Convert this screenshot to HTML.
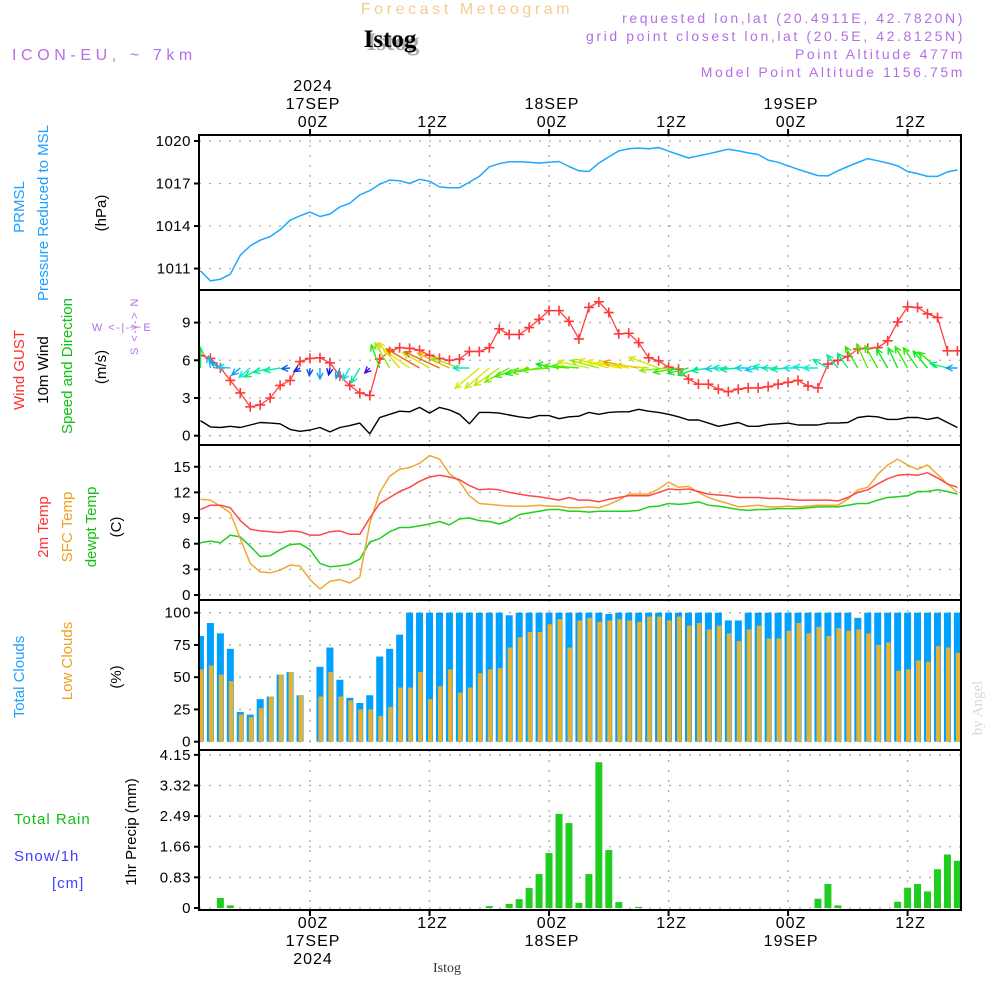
<!DOCTYPE html>
<html><head><meta charset="utf-8"><title>Forecast Meteogram Istog</title>
<style>
html,body{margin:0;padding:0;background:#fff;}
svg{display:block;font-family:"Liberation Sans",sans-serif;}
</style></head>
<body>
<svg id="chart" width="1000" height="1000" viewBox="0 0 1000 1000" xmlns="http://www.w3.org/2000/svg">
<g>
<text x="467" y="14" text-anchor="middle" font-size="16" letter-spacing="3.6" fill="#f5cc90">Forecast Meteogram</text>
<text x="393" y="50" text-anchor="middle" font-size="25" font-weight="bold" font-family="Liberation Serif,serif" fill="#aaa">Istog</text>
<text x="390" y="47" text-anchor="middle" font-size="25" font-weight="bold" font-family="Liberation Serif,serif" fill="#000">Istog</text>
<text x="12" y="60" font-size="16" letter-spacing="4.6" fill="#b46ee6">ICON-EU, ~ 7km</text>
<text x="965" y="23" text-anchor="end" font-size="14" letter-spacing="2.6" fill="#b46ee6">requested lon,lat (20.4911E, 42.7820N)</text>
<text x="965" y="41" text-anchor="end" font-size="14" letter-spacing="2.6" fill="#b46ee6">grid point closest lon,lat (20.5E, 42.8125N)</text>
<text x="965" y="59" text-anchor="end" font-size="14" letter-spacing="2.6" fill="#b46ee6">Point Altitude 477m</text>
<text x="965" y="77" text-anchor="end" font-size="14" letter-spacing="2.6" fill="#b46ee6">Model Point Altitude 1156.75m</text>
</g>
<g id="plots"></g>
<g font-size="15">
<text transform="translate(24,207) rotate(-90)" text-anchor="middle" fill="#1ea0ff">PRMSL</text>
<text transform="translate(48,213) rotate(-90)" text-anchor="middle" fill="#1ea0ff">Pressure Reduced to MSL</text>
<text transform="translate(106,213) rotate(-90)" text-anchor="middle" fill="#000">(hPa)</text>
<text transform="translate(24,370) rotate(-90)" text-anchor="middle" fill="#ff3030">Wind GUST</text>
<text transform="translate(48,370) rotate(-90)" text-anchor="middle" fill="#000">10m Wind</text>
<text transform="translate(72,366) rotate(-90)" text-anchor="middle" fill="#10c010">Speed and Direction</text>
<text transform="translate(106,367) rotate(-90)" text-anchor="middle" fill="#000">(m/s)</text>
<text x="122" y="331" text-anchor="middle" font-size="11" fill="#b46ee6" letter-spacing="1.5">W &lt;-|-&gt; E</text>
<text transform="translate(138,326) rotate(-90)" text-anchor="middle" font-size="11" fill="#b46ee6" letter-spacing="1.5">S &lt;-|-&gt; N</text>
<text transform="translate(48,527) rotate(-90)" text-anchor="middle" fill="#ff3030">2m Temp</text>
<text transform="translate(72,527) rotate(-90)" text-anchor="middle" fill="#f0a020">SFC Temp</text>
<text transform="translate(96,527) rotate(-90)" text-anchor="middle" fill="#10c010">dewpt Temp</text>
<text transform="translate(121,527) rotate(-90)" text-anchor="middle" fill="#000">(C)</text>
<text transform="translate(24,677) rotate(-90)" text-anchor="middle" fill="#1ea0ff">Total Clouds</text>
<text transform="translate(72,661) rotate(-90)" text-anchor="middle" fill="#f0a020">Low Clouds</text>
<text transform="translate(121,677) rotate(-90)" text-anchor="middle" fill="#000">(%)</text>
<text x="14" y="824" fill="#10c010" letter-spacing="1">Total  Rain</text>
<text x="14" y="861" fill="#4040ff" letter-spacing="1">Snow/1h</text>
<text x="52" y="888" fill="#4040ff" letter-spacing="1">[cm]</text>
<text transform="translate(136,832) rotate(-90)" text-anchor="middle" fill="#000">1hr Precip (mm)</text>
<text transform="translate(982,708) rotate(-90)" text-anchor="middle" font-family="Liberation Serif,serif" font-size="15" fill="#d8d8d8">by Angel</text>
<text x="447" y="972" text-anchor="middle" font-family="Liberation Serif,serif" font-size="14" fill="#333">Istog</text>
</g>
</svg>
<script>
// hourly data, hours -11 .. 65 relative to 00Z 17SEP
const hours = [];
for (let h = -11; h <= 65; h++) hours.push(h);
const pressure = [1010.84,1010.13,1010.25,1010.6,1011.94,1012.6,1013.0,1013.26,1013.73,1014.41,1014.72,1014.98,1014.67,1014.84,1015.35,1015.6,1016.2,1016.5,1016.95,1017.24,1017.2,1017.0,1017.3,1017.16,1016.76,1016.7,1016.7,1017.1,1017.5,1018.18,1018.4,1018.53,1018.53,1018.5,1018.44,1018.5,1018.55,1018.2,1017.9,
1017.85,1018.44,1018.88,1019.3,1019.45,1019.5,1019.45,1019.54,1019.28,1019.05,1018.8,1018.95,1019.1,1019.26,1019.42,1019.3,1019.16,1019.05,1018.65,1018.5,1018.25,1018.0,1017.78,1017.56,1017.54,1017.9,1018.2,1018.48,1018.76,1018.6,1018.44,1018.25,1017.85,1017.7,1017.5,1017.5,1017.82,1017.95];
const gust = [6.4,6.15,5.4,4.4,3.4,2.3,2.45,3.0,4.0,4.4,5.9,6.15,6.2,5.8,4.75,4.0,3.4,3.2,6.1,6.7,7.0,6.95,6.8,6.4,6.15,6.0,6.1,6.7,6.7,7.0,8.5,8.05,8.05,8.6,9.25,9.95,9.95,9.1,7.7,
10.2,10.65,9.8,8.1,8.15,7.4,6.2,5.95,5.45,5.3,4.5,4.1,4.1,3.7,3.5,3.7,3.8,3.8,3.9,4.1,4.25,4.4,3.95,3.8,5.7,6.0,6.3,6.9,6.95,7.0,7.55,9.05,10.25,10.2,9.7,9.4,6.75,6.75];
const wind10 = [1.2,0.7,0.65,0.75,0.65,0.85,1.05,1.0,0.95,0.5,0.35,0.45,0.65,0.3,0.65,0.8,1.0,0.15,1.45,1.7,1.95,1.9,2.25,1.8,2.25,2.05,1.7,0.95,1.85,1.85,1.8,1.65,1.5,1.4,1.6,1.6,1.35,1.5,1.55,
1.85,1.7,1.85,1.9,1.9,2.1,1.95,1.85,1.7,1.5,1.25,1.25,1.0,0.75,0.9,1.05,0.75,0.75,0.9,0.95,1.0,0.85,0.85,0.85,1.0,1.0,1.05,1.45,1.55,1.5,1.3,1.3,1.45,1.45,1.3,1.45,1.05,0.65];
// direction the wind blows toward, degrees counter-clockwise from east
const windToAngle = [90,100,150,175,220,220,210,195,190,185,210,265,270,260,250,240,240,225,110,120,130,145,150,150,155,155,160,180,220,220,215,210,200,195,190,185,170,175,175,
168,165,165,168,170,170,175,160,185,190,195,200,190,185,180,185,180,190,175,180,185,180,175,180,150,130,125,120,115,120,120,115,120,125,130,140,165,180];
const temp2m = [10.0,10.5,10.5,10.2,8.7,7.7,7.5,7.4,7.3,7.5,7.4,7.0,7.0,7.4,7.5,7.1,7.1,9.0,10.7,11.4,12.1,12.6,13.3,13.8,14.0,13.8,13.5,12.8,12.3,12.4,12.3,12.0,11.8,11.6,11.5,11.3,11.1,11.4,11.1,
11.1,10.9,11.2,11.4,11.6,11.6,11.6,12.0,12.4,12.3,12.4,12.1,11.8,11.7,11.6,11.4,11.4,11.4,11.3,11.3,11.2,11.1,11.1,11.1,11.1,11.0,11.4,12.0,12.3,13.0,13.6,14.0,14.1,14.0,14.3,13.7,13.0,12.6];
const sfcTemp = [11.2,11.1,10.4,9.6,6.6,3.7,2.7,2.6,2.9,3.5,3.4,1.8,0.7,1.6,1.8,1.4,2.1,8.4,12.0,13.9,14.7,14.9,15.4,16.3,15.9,14.2,13.3,11.6,10.7,10.6,10.5,10.4,10.4,10.4,10.5,10.4,10.4,10.2,10.2,
10.3,10.2,10.6,11.1,11.8,11.8,11.8,12.4,13.2,12.6,12.7,12.0,11.4,11.0,10.7,10.3,10.4,10.5,10.3,10.3,10.4,10.3,10.4,10.5,10.5,10.5,11.2,12.3,12.6,14.1,15.2,15.9,15.2,14.7,15.2,14.1,13.0,12.0];
const dewpt = [6.1,6.3,6.1,7.0,6.8,5.7,4.5,4.6,5.3,5.9,6.0,5.3,3.7,3.3,3.4,3.6,4.2,6.2,6.6,7.4,7.9,7.9,8.1,8.3,8.6,8.2,8.9,9.0,8.7,8.6,8.3,8.7,9.4,9.6,9.8,10.0,10.0,9.8,9.8,
9.7,9.8,9.8,9.8,9.8,9.9,10.3,10.4,10.7,10.6,10.7,10.9,10.5,10.4,10.2,10.0,9.9,10.0,10.0,10.1,10.1,10.1,10.2,10.3,10.3,10.3,10.5,10.7,10.7,11.1,11.4,11.5,11.6,12.1,12.1,12.3,12.1,11.8];
const totalClouds = [82,92,84,72,23,21,33,35,52,54,36,0,58,73,48,34,30,36,66,72,83,100,100,100,100,100,100,100,100,100,100,98,100,100,100,100,100,100,100,
100,100,99,100,100,100,100,100,100,100,100,100,100,100,94,94,100,100,100,100,100,100,100,100,100,100,100,96,100,100,100,100,100,100,100,100,100,100];
const lowClouds = [56,59,52,47,21,19,26,35,52,54,36,0,35,54,35,32,25,25,20,27,42,42,54,33,43,56,38,42,53,56,57,73,81,85,85,91,95,73,94,
96,93,94,95,94,93,97,97,94,97,90,92,87,90,84,78,87,90,80,80,86,92,84,89,82,88,86,87,84,75,77,55,56,63,62,74,73,69];
const precip = [0,0,0.27,0.07,0,0,0,0,0,0,0,0,0,0,0,0,0,0,0,0,0,0,0,0,0,0,0,0,0,
0.05,0,0.11,0.24,0.54,0.92,1.49,2.55,2.30,0.14,0.92,3.95,1.57,0.16,0,0.03,
0,0,0,0,0,0,0,0,0,0,0,0,0,0,0,0,0,
0.25,0.65,0.07,0,0,0,0,0,0.17,0.55,0.65,0.45,1.05,1.45,1.28];
const pressureTicks = [1011,1014,1017,1020];
const windTicks = [0,3,6,9];
const tempTicks = [0,3,6,9,12,15];
const cloudTicks = [0,25,50,75,100];
const precipTicks = [0,0.83,1.66,2.49,3.32,4.15];
const gridHours = [0,12,24,36,48,60];
const timeLabels = ["00Z","12Z","00Z","12Z","00Z","12Z"];
const dateLabels = ["17SEP","","18SEP","","19SEP",""];

const NS = "http://www.w3.org/2000/svg";
const X0 = 199, X1 = 961;
const xOf = h => 310 + 9.96 * h;
const panels = {
  p: {top:135, bot:290, y: v => 141 + (1020 - v) * 14.17},
  w: {top:290, bot:445, y: v => 435.7 - v * 12.57},
  t: {top:445, bot:600, y: v => 595 - v * 8.55},
  c: {top:600, bot:750, y: v => 741.7 - v * 1.29},
  r: {top:750, bot:910, y: v => 908 - v * 36.9}
};
const root = document.getElementById('plots');
function el(tag, attrs, parent) {
  const e = document.createElementNS(NS, tag);
  for (const k in attrs) e.setAttribute(k, attrs[k]);
  (parent || root).appendChild(e);
  return e;
}
const defs = el('defs', {});
function makeClip(id, p) {
  const c = el('clipPath', {id: id}, defs);
  el('rect', {x: X0 + 1, y: p.top + 1, width: X1 - X0 - 2, height: p.bot - p.top - 2}, c);
}
function panelGroup(key, name, ticks, fmt) {
  const p = panels[key];
  makeClip('clip-' + key, p);
  const g = el('g', {});
  
  
  ticks.forEach(v => {
    const y = p.y(v);
    const gl = el('line', {x1: X0, x2: X1, y1: y, y2: y, stroke: '#aaa', 'stroke-width': 1.3, 'stroke-dasharray': '2,8'}, g);
    
    
    el('line', {x1: X0 - 5, x2: X0, y1: y, y2: y, stroke: '#000', 'stroke-width': 2}, g);
    const t = el('text', {x: 191, y: y + 5, 'text-anchor': 'end', 'font-size': 15, 'letter-spacing': 0.5, fill: '#000'}, g);
    
    
    t.textContent = fmt(v);
  });
  gridHours.forEach(h => {
    const x = xOf(h);
    const vl = el('line', {x1: x, x2: x, y1: p.top, y2: p.bot, stroke: '#aaa', 'stroke-width': 1.3, 'stroke-dasharray': '2,8'}, g);
    
    
  });
  const data = el('g', {'clip-path': 'url(#clip-' + key + ')'}, g);
  
  
  const fr = el('rect', {x: X0, y: p.top, width: X1 - X0, height: p.bot - p.top, fill: 'none', stroke: '#000', 'stroke-width': 2}, g);
  
  
  return data;
}
function line(parent, arr, p, color, name, w) {
  const pts = arr.map((v, i) => xOf(hours[i]).toFixed(1) + ',' + p.y(v).toFixed(1)).join(' ');
  const pl = el('polyline', {points: pts, fill: 'none', stroke: color, 'stroke-width': w || 1.5, 'stroke-linejoin': 'round'}, parent);
  
  
}

// Pressure
const gp = panelGroup('p', 'pressure', pressureTicks, v => String(v));
line(gp, pressure, panels.p, '#1ea8ff', 'pressure-line');

// Wind
const gw = panelGroup('w', 'wind', windTicks, v => String(v));
line(gw, wind10, panels.w, '#000', 'wind-10m-line', 1.4);
line(gw, gust, panels.w, '#ff4040', 'wind-gust-line', 1.3);
gust.forEach((v, i) => {
  const x = xOf(hours[i]), y = panels.w.y(v);
  const m = el('path', {d: `M${x-5},${y}H${x+5}M${x},${y-5}V${y+5}`, stroke: '#ff3838', 'stroke-width': 1.6}, gw);
  
  
});
wind10.forEach((s, i) => {
  const a = windToAngle[i] * Math.PI / 180;
  const len = Math.max(7, s * 17);
  const x0 = xOf(hours[i]), y0 = 368;
  const x1 = x0 + Math.cos(a) * len, y1 = y0 - Math.sin(a) * len;
  const hue = Math.max(25, Math.min(275, 270 - s * 110));
  const col = `hsl(${hue},90%,48%)`;
  const hl = 7, ha = 0.45;
  const hx1 = x1 - Math.cos(a - ha) * hl, hy1 = y1 + Math.sin(a - ha) * hl;
  const hx2 = x1 - Math.cos(a + ha) * hl, hy2 = y1 + Math.sin(a + ha) * hl;
  const ar = el('path', {d: `M${x0},${y0}L${x1},${y1}M${hx1},${hy1}L${x1},${y1}L${hx2},${hy2}`, stroke: col, 'stroke-width': 1.4, fill: 'none'}, gw);
  
  
});

// Temperature
const gt = panelGroup('t', 'temperature', tempTicks, v => String(v));
line(gt, dewpt, panels.t, '#20d020', 'dewpoint-line');
line(gt, sfcTemp, panels.t, '#f0a830', 'sfc-temp-line');
line(gt, temp2m, panels.t, '#ff4848', 'temp-2m-line');

// Clouds
const gc = panelGroup('c', 'clouds', cloudTicks, v => String(v));
totalClouds.forEach((v, i) => {
  if (v <= 0) return;
  const x = xOf(hours[i]), y = panels.c.y(v);
  const b = el('rect', {x: x - 3.5, y: y, width: 7, height: panels.c.y(0) - y, fill: '#00a0ff'}, gc);
  
  
});
lowClouds.forEach((v, i) => {
  if (v <= 0) return;
  const x = xOf(hours[i]), y = panels.c.y(v);
  const b = el('rect', {x: x - 1.5, y: y, width: 4.5, height: panels.c.y(0) - y, fill: '#e8b030'}, gc);
  
  
});

// Precip
const gr = panelGroup('r', 'precip', precipTicks, v => v === 0 ? '0' : v.toFixed(2));
precip.forEach((v, i) => {
  if (v <= 0) return;
  const x = xOf(hours[i]), y = panels.r.y(v);
  const b = el('rect', {x: x - 3.5, y: y, width: 7, height: panels.r.y(0) - y, fill: '#20cc20'}, gr);
  
  
});

// time axes
const axG = el('g', {'font-size': 16, 'letter-spacing': 1, 'text-anchor': 'middle', fill: '#000'});


gridHours.forEach((h, i) => {
  const x = xOf(h) + 3;
  el('line', {x1: xOf(h), x2: xOf(h), y1: 129, y2: 135, stroke: '#000', 'stroke-width': 2}, axG);
  el('line', {x1: xOf(h), x2: xOf(h), y1: 910, y2: 916, stroke: '#000', 'stroke-width': 2}, axG);
  const t1 = el('text', {x: x, y: 127}, axG);
  
  
  t1.textContent = timeLabels[i];
  const b1 = el('text', {x: x, y: 928}, axG);
  
  
  b1.textContent = timeLabels[i];
  if (dateLabels[i]) {
    const t2 = el('text', {x: x, y: 109}, axG);
    
    
    t2.textContent = dateLabels[i];
    const b2 = el('text', {x: x, y: 946}, axG);
    
    
    b2.textContent = dateLabels[i];
  }
});
const yTop = el('text', {x: xOf(0) + 3, y: 91}, axG);


yTop.textContent = '2024';
const yBot = el('text', {x: xOf(0) + 3, y: 964}, axG);


yBot.textContent = '2024';
</script>
</body></html>
